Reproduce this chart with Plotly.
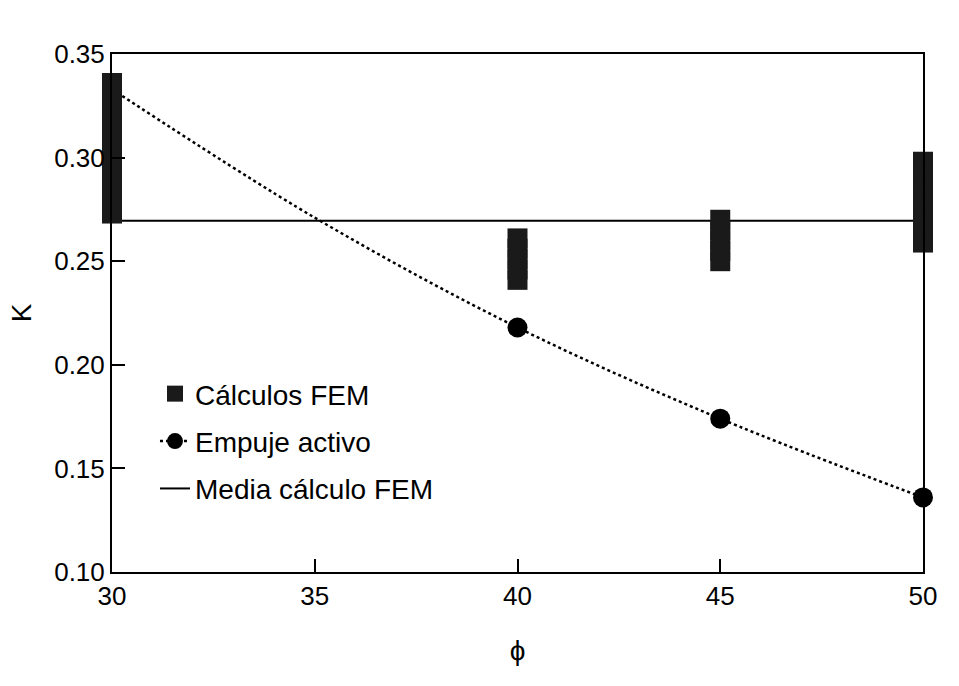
import plotly.graph_objects as go

# ---- data ----
phi_fem_30 = [0.336, 0.330, 0.323, 0.316, 0.309, 0.302, 0.295, 0.288, 0.281, 0.275, 0.273]
phi_fem_40 = [0.261, 0.256, 0.251, 0.246, 0.241]
phi_fem_45 = [0.270, 0.265, 0.260, 0.255, 0.250]
phi_fem_50 = [0.298, 0.291, 0.284, 0.277, 0.270, 0.264, 0.259]

phi_active = [30, 35, 40, 45, 50]
k_active = [0.333, 0.271, 0.218, 0.174, 0.136]
active_marker_size = [20, 0, 20, 20, 20]

mean_phi = [30, 50]
mean_k = [0.2695, 0.2695]

x_ticks = [30, 35, 40, 45, 50]
y_ticks = [0.10, 0.15, 0.20, 0.25, 0.30, 0.35]

fem_x = [30] * len(phi_fem_30) + [40] * len(phi_fem_40) + [45] * len(phi_fem_45) + [50] * len(phi_fem_50)
fem_y = phi_fem_30 + phi_fem_40 + phi_fem_45 + phi_fem_50

FONT = "Liberation Sans, Arial, sans-serif"

fig = go.Figure()

fig.add_trace(go.Scatter(
    x=mean_phi, y=mean_k, mode="lines", name="Media cálculo FEM",
    line=dict(color="black", width=2), legendrank=3, legendgroup="c",
    cliponaxis=False,
))
fig.add_trace(go.Scatter(
    x=phi_active, y=k_active, mode="lines+markers", name="Empuje activo",
    line=dict(color="black", width=2.5, dash="dot", shape="spline"),
    marker=dict(symbol="circle", size=active_marker_size, color="black",
                opacity=1, line=dict(width=0)),
    legendrank=2, legendgroup="b", cliponaxis=False,
))
fig.add_trace(go.Scatter(
    x=fem_x, y=fem_y, mode="markers", name="Cálculos FEM",
    marker=dict(symbol="square", size=20, color="#1a1a1a", opacity=1, line=dict(width=0)),
    legendrank=1, legendgroup="a", cliponaxis=False,
))

fig.update_layout(
    width=959, height=686,
    margin=dict(l=112, r=36, t=54, b=114),
    paper_bgcolor="white", plot_bgcolor="white",
    font=dict(family=FONT, size=26, color="black"),
    showlegend=True,
    legend=dict(
        x=0.053, y=0.392, xanchor="left", yanchor="top",
        bgcolor="rgba(0,0,0,0)", borderwidth=0,
        font=dict(family=FONT, size=28, color="black"),
        tracegroupgap=8, traceorder="grouped",
    ),
    xaxis=dict(
        range=[30, 50], tickvals=x_ticks, ticktext=[str(v) for v in x_ticks],
        showgrid=False, zeroline=False,
        showline=True, linecolor="black", linewidth=2, mirror=True,
        ticks="inside", ticklen=13, tickwidth=2, tickcolor="black",
        tickfont=dict(size=26),
        title=dict(text="ϕ", font=dict(size=28), standoff=30),
    ),
    yaxis=dict(
        range=[0.10, 0.35], tickvals=y_ticks, ticktext=[f"{v:.2f}" for v in y_ticks],
        showgrid=False, zeroline=False,
        showline=True, linecolor="black", linewidth=2, mirror=True,
        ticks="inside", ticklen=13, tickwidth=2, tickcolor="black",
        tickfont=dict(size=26),
        title=dict(text="K", font=dict(size=28), standoff=14),
    ),
)

fig.write_html("out.html")
